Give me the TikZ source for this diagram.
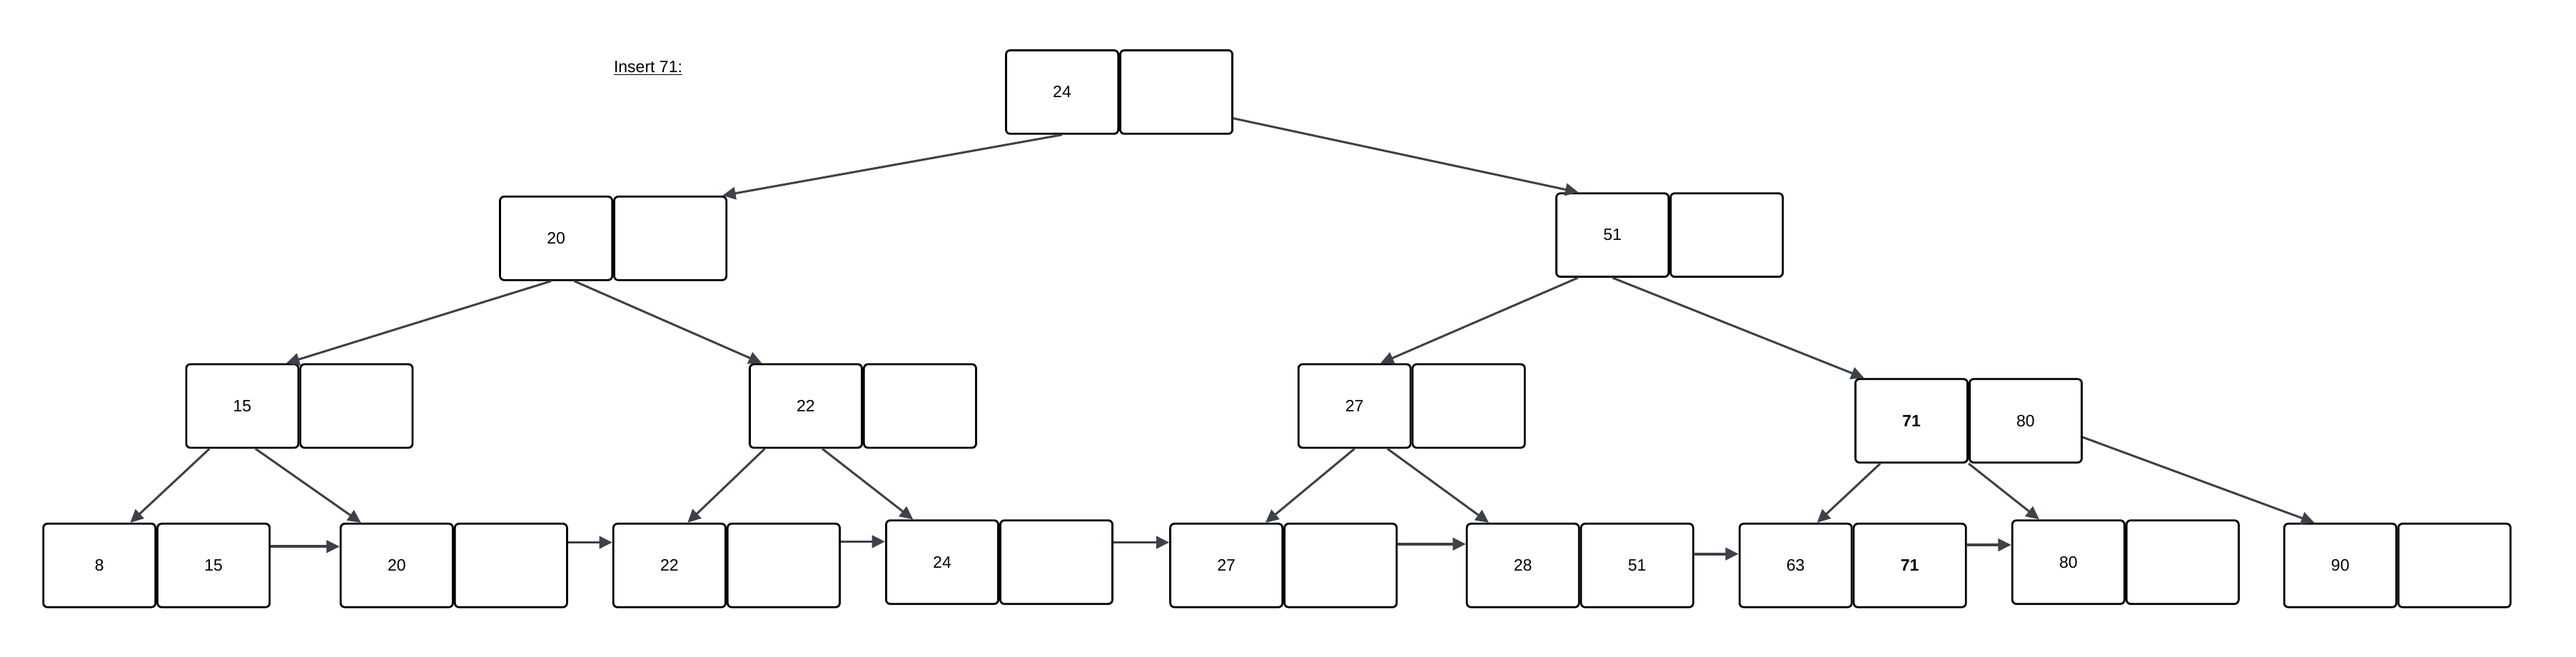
\documentclass[tikz,border=0pt]{standalone}
\usepackage{fontspec}
\setmainfont{Liberation Sans}
\usetikzlibrary{positioning,arrows.meta}
\definecolor{edgegray}{RGB}{60,65,74}
\begin{document}
\begin{tikzpicture}[x=1pt,y=-1pt,node distance=0pt,
  cell/.style={draw=black,line width=1.2pt,rounded corners=2.5pt,minimum width=68.3pt,
    minimum height=50.8pt,inner sep=0pt,font=\fontsize{10}{12}\selectfont},
  ptr/.style={draw=edgegray,line width=1.3pt,-{Triangle[length=8pt,width=7.5pt]}},
  link/.style={ptr,line width=1.6pt}]
  \useasboundingbox (0,0) rectangle (1568,399.3);

  \node[font=\fontsize{10}{12}\selectfont] (title) at (394.5,41.5) {\underline{Insert 71:}};

  \node[cell] (root) at (646.5,56) {24};
  \node[cell,right=of root] (root2) {};
  \node[cell] (n20) at (338.5,145) {20};
  \node[cell,right=of n20] (n20b) {};
  \node[cell] (n51) at (981.5,143) {51};
  \node[cell,right=of n51] (n51b) {};
  \node[cell] (n15) at (147.5,247) {15};
  \node[cell,right=of n15] (n15b) {};
  \node[cell] (n22) at (490.5,247) {22};
  \node[cell,right=of n22] (n22b) {};
  \node[cell] (n27) at (824.5,247) {27};
  \node[cell,right=of n27] (n27b) {};
  \node[cell] (n71) at (1163.5,256) {\textbf{71}};
  \node[cell,right=of n71] (n71b) {80};

  \node[cell] (l8) at (60.5,344) {8};
  \node[cell,right=of l8] (l8b) {15};
  \node[cell] (l20) at (241.5,344) {20};
  \node[cell,right=of l20] (l20b) {};
  \node[cell] (l22) at (407.5,344) {22};
  \node[cell,right=of l22] (l22b) {};
  \node[cell] (l24) at (573.5,342) {24};
  \node[cell,right=of l24] (l24b) {};
  \node[cell] (l27) at (746.5,344) {27};
  \node[cell,right=of l27] (l27b) {};
  \node[cell] (l28) at (927,344) {28};
  \node[cell,right=of l28] (l28b) {51};
  \node[cell] (l63) at (1093,344) {63};
  \node[cell,right=of l63] (l63b) {\textbf{71}};
  \node[cell] (l80) at (1259,342) {80};
  \node[cell,right=of l80] (l80b) {};
  \node[cell] (l90) at (1424.5,344) {90};
  \node[cell,right=of l90] (l90b) {};

  \draw[ptr] (root.south) -- ([xshift=-3pt]n20b.north east);
  \draw[ptr] ([yshift=10pt]root2.south east) -- ([xshift=14pt]n51.north west);
  \draw[ptr] ([xshift=-3pt]n20.south) -- ([xshift=-8pt]n15.north east);
  \draw[ptr] ([xshift=11pt]n20.south) -- ([xshift=8pt]n22.north west);
  \draw[ptr] ([xshift=-21pt]n51.south) -- ([xshift=-19pt]n27.north east);
  \draw[ptr] (n51.south) -- ([xshift=6pt]n71.north west);
  \draw[ptr] ([xshift=-20pt]n15.south) -- ([xshift=-16pt]l8.north east);
  \draw[ptr] ([xshift=8pt]n15.south) -- ([xshift=13pt]l20.north west);
  \draw[ptr] ([xshift=-25pt]n22.south) -- ([xshift=11pt]l22.north);
  \draw[ptr] ([xshift=10pt]n22.south) -- ([xshift=17pt]l24.north west);
  \draw[ptr] (n27.south) -- ([xshift=-11pt]l27.north east);
  \draw[ptr] ([xshift=20pt]n27.south) -- ([xshift=14pt]l28.north west);
  \draw[ptr] ([xshift=-19pt]n71.south) -- ([xshift=13pt]l63.north);
  \draw[ptr] (n71.south east) -- ([xshift=17pt]l80.north west);
  \draw[ptr] ([yshift=-10pt]n71b.east) -- ([xshift=19pt]l90.north west);

  \draw[link] ([yshift=11.5pt]l8b.east) -- ([yshift=11.5pt]l20.west);
  \draw[link] ([yshift=14pt]l20b.east) -- ([yshift=14pt]l22.west);
  \draw[link] ([yshift=14.5pt]l22b.east) -- ([yshift=12.5pt]l24.west);
  \draw[link] ([yshift=12pt]l24b.east) -- ([yshift=14pt]l27.west);
  \draw[link] ([yshift=13pt]l27b.east) -- ([yshift=13pt]l28.west);
  \draw[link] ([yshift=7pt]l28b.east) -- ([yshift=7pt]l63.west);
  \draw[link] ([yshift=12.5pt]l63b.east) -- ([yshift=10.5pt]l80.west);
\end{tikzpicture}
\end{document}
